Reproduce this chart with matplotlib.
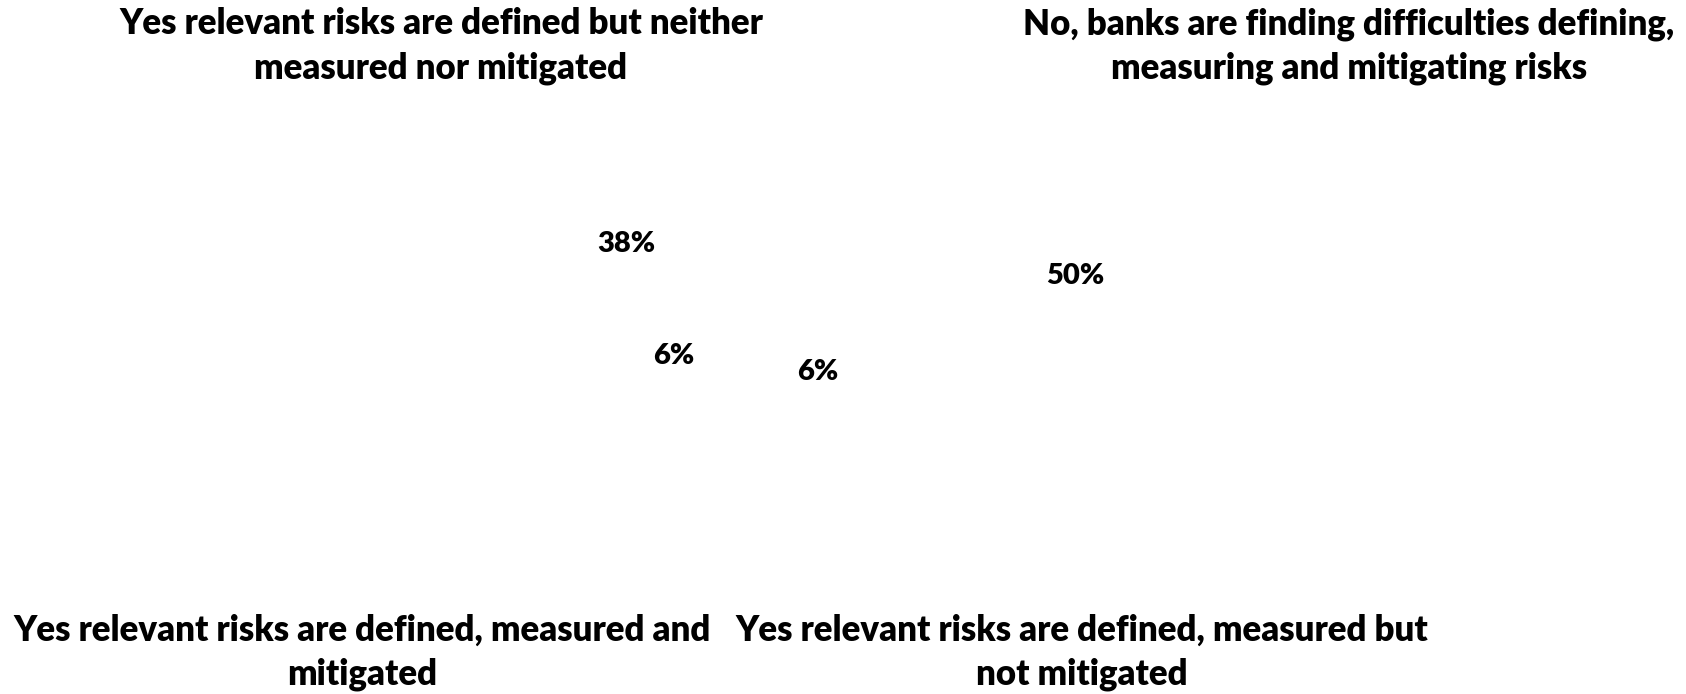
import matplotlib
matplotlib.use("Agg")
import matplotlib.pyplot as plt

categories = [
    "No, banks are finding difficulties defining,\nmeasuring and mitigating risks",
    "Yes relevant risks are defined, measured but\nnot mitigated",
    "Yes relevant risks are defined, measured and\nmitigated",
    "Yes relevant risks are defined but neither\nmeasured nor mitigated",
]
shares = [50, 6, 6, 38]

# where each category name and its percentage sit on the figure (pixels, top-left origin)
name_pos = [(1349, 46), (1082, 652), (362, 652), (441, 46)]
pct_pos = [(1075, 276), (818, 372), (674, 356), (626, 244)]

W, H = 1686, 694
fig = plt.figure(figsize=(W / 100, H / 100), dpi=100)
fig.patch.set_facecolor("white")

# the pie itself is drawn in white, so only its labels show
ax = fig.add_axes([0.3, 0.1, 0.4, 0.8])
ax.pie(shares, colors=["white"] * len(shares), startangle=90, counterclock=False)
ax.set_aspect("equal")

font = "Lato"
for name, (x, y) in zip(categories, name_pos):
    fig.text(x / W, 1 - y / H, name, ha="center", va="center", fontsize=25,
             fontweight="heavy", family=font, linespacing=1.4)
for s, (x, y) in zip(shares, pct_pos):
    fig.text(x / W, 1 - y / H, f"{s}%", ha="center", va="center", fontsize=21,
             fontweight="heavy", family=font)

fig.savefig("out.png", dpi=100, facecolor="white")
